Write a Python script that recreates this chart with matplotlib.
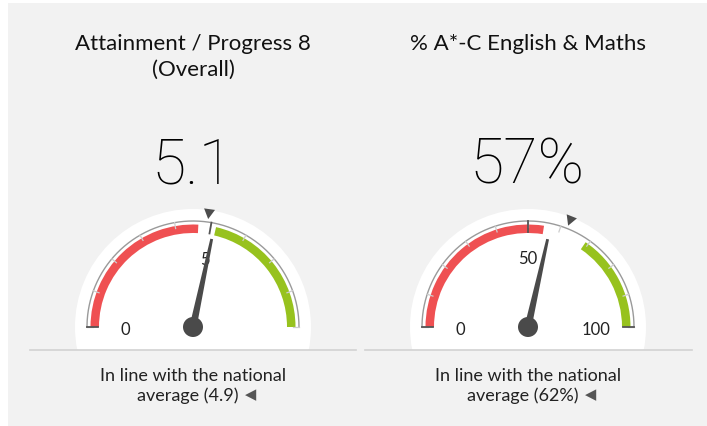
import numpy as np
import matplotlib
matplotlib.use("Agg")
import matplotlib.pyplot as plt
from matplotlib.patches import Wedge, Circle, Rectangle, Polygon

# ---------------- data ----------------
title_lines = [["Attainment / Progress 8", "(Overall)"], ["% A*-C English & Maths"]]
display_values = ["5.1", "57%"]
gauge_values = [5.1, 57]
gauge_min = [0, 0]
gauge_max = [9, 100]
national_avg = [4.9, 62]
red_band = [(0, 4.65), (0, 55)]
green_band = [(5.15, 9), (69, 100)]
minor_ticks = [list(range(0, 10, 1)), list(range(0, 101, 10))]
major_ticks = [[0, 5], [0, 50, 100]]
tick_labels = [["0", "5"], ["0", "50", "100"]]
caption_lines = [["In line with the national", "average (4.9)"],
                 ["In line with the national", "average (62%)"]]
caption_arrow = "\u25C0"

# ---------------- layout ----------------
W, H = 707, 426
centers_x = [193, 528]
center_y_img = 327
BG = "#f2f2f2"
RED = "#ef5052"
GREEN = "#97c21e"
DARK = "#4a4a4a"

fig = plt.figure(figsize=(W / 100, H / 100), dpi=100)
fig.patch.set_facecolor("white")
ax = fig.add_axes([0, 0, 1, 1])
ax.set_xlim(0, W)
ax.set_ylim(0, H)
ax.set_aspect("auto")
ax.axis("off")
renderer = fig.canvas.get_renderer()

def Y(y_img):
    return H - y_img

# background panel
ax.add_patch(Rectangle((8, 0), W - 8, Y(3), facecolor=BG, edgecolor="none", zorder=0))

FONT = ["Lato", "DejaVu Sans"]

for i in range(2):
    cx = centers_x[i]
    cy = Y(center_y_img)
    vmin, vmax = gauge_min[i], gauge_max[i]

    def ang(v):
        return 180.0 - (v - vmin) / (vmax - vmin) * 180.0

    def pt(v, r):
        a = np.deg2rad(ang(v))
        return cx + r * np.cos(a), cy + r * np.sin(a)

    # white disc, clipped at separator line
    disc = Circle((cx, cy), 118, facecolor="white", edgecolor="none", zorder=1)
    ax.add_patch(disc)
    clip = Rectangle((0, Y(350.3)), W, H, transform=ax.transData)
    disc.set_clip_path(clip)

    # colour bands
    ax.add_patch(Wedge((cx, cy), 102.5, ang(red_band[i][1]), ang(red_band[i][0]),
                       width=8.5, facecolor=RED, edgecolor="none", zorder=2))
    ax.add_patch(Wedge((cx, cy), 102.5, ang(green_band[i][1]), ang(green_band[i][0]),
                       width=8.5, facecolor=GREEN, edgecolor="none", zorder=2))

    # outer arc
    t = np.linspace(0, np.pi, 200)
    ax.plot(cx + 106 * np.cos(t), cy + 106 * np.sin(t), color="#9a9a9a", lw=1.0, zorder=3)

    # minor ticks
    for v in minor_ticks[i]:
        x0, y0 = pt(v, 100)
        x1, y1 = pt(v, 106)
        ax.plot([x0, x1], [y0, y1], color="#cdcdcd", lw=0.9, zorder=3)
    # major ticks + labels
    for v, lab in zip(major_ticks[i], tick_labels[i]):
        x0, y0 = pt(v, 95)
        x1, y1 = pt(v, 106)
        ax.plot([x0, x1], [y0, y1], color="#555555", lw=1.3, zorder=4)
        lx, ly = pt(v, 68)
        if ang(v) in (0.0, 180.0):
            ly -= 3
        ax.text(lx, ly, lab, ha="center", va="center", fontsize=12,
                family=FONT, color="#222222", zorder=5)

    # national average marker (triangle pointing to centre)
    a = np.deg2rad(ang(national_avg[i]))
    tip = (cx + 109 * np.cos(a), cy + 109 * np.sin(a))
    bx, by = cx + 119 * np.cos(a), cy + 119 * np.sin(a)
    px, py = -np.sin(a), np.cos(a)
    tri = [tip, (bx + 5.5 * px, by + 5.5 * py), (bx - 5.5 * px, by - 5.5 * py)]
    ax.add_patch(Polygon(tri, closed=True, facecolor="#4d4d4d", edgecolor="none", zorder=5))

    # needle
    a = np.deg2rad(ang(gauge_values[i]))
    ux, uy = np.cos(a), np.sin(a)
    px, py = -uy, ux
    L = 90
    needle = [(cx + 3.6 * px, cy + 3.6 * py),
              (cx + L * ux + 1.4 * px, cy + L * uy + 1.4 * py),
              (cx + L * ux - 1.4 * px, cy + L * uy - 1.4 * py),
              (cx - 3.6 * px, cy - 3.6 * py)]
    ax.add_patch(Polygon(needle, closed=True, facecolor=DARK, edgecolor="none", zorder=6))
    ax.add_patch(Circle((cx, cy), 10, facecolor=DARK, edgecolor="none", zorder=7))

    # titles
    base = [50, 76]
    for k, line in enumerate(title_lines[i]):
        ax.text(cx, Y(base[k]), line, ha="center", va="baseline", fontsize=16,
                family=FONT, color="#111111", zorder=5)

    # big value
    ax.text(cx - 1, Y(183), display_values[i], ha="center", va="baseline", fontsize=45,
            family=["Roboto", "DejaVu Sans"], fontweight="light", color="#000000", zorder=5)

    # captions
    ax.text(cx, Y(381), caption_lines[i][0], ha="center", va="baseline",
            fontsize=13, family=FONT, color="#222222", zorder=5)
    t2 = ax.text(cx - 5, Y(401), caption_lines[i][1], ha="center", va="baseline",
                 fontsize=13, family=FONT, color="#222222", zorder=5)
    bb = t2.get_window_extent(renderer=renderer)
    ax.text(bb.x1 + 6, Y(399.5), caption_arrow, ha="left", va="baseline",
            fontsize=10.5, family=["DejaVu Sans"], color="#555555", zorder=5)

# separator lines
ax.plot([30, 356], [Y(350.3), Y(350.3)], color="#d2d2d2", lw=1.2, zorder=3)
ax.plot([365, 692], [Y(350.3), Y(350.3)], color="#d2d2d2", lw=1.2, zorder=3)

fig.savefig("out.png", dpi=100, facecolor=fig.get_facecolor())
